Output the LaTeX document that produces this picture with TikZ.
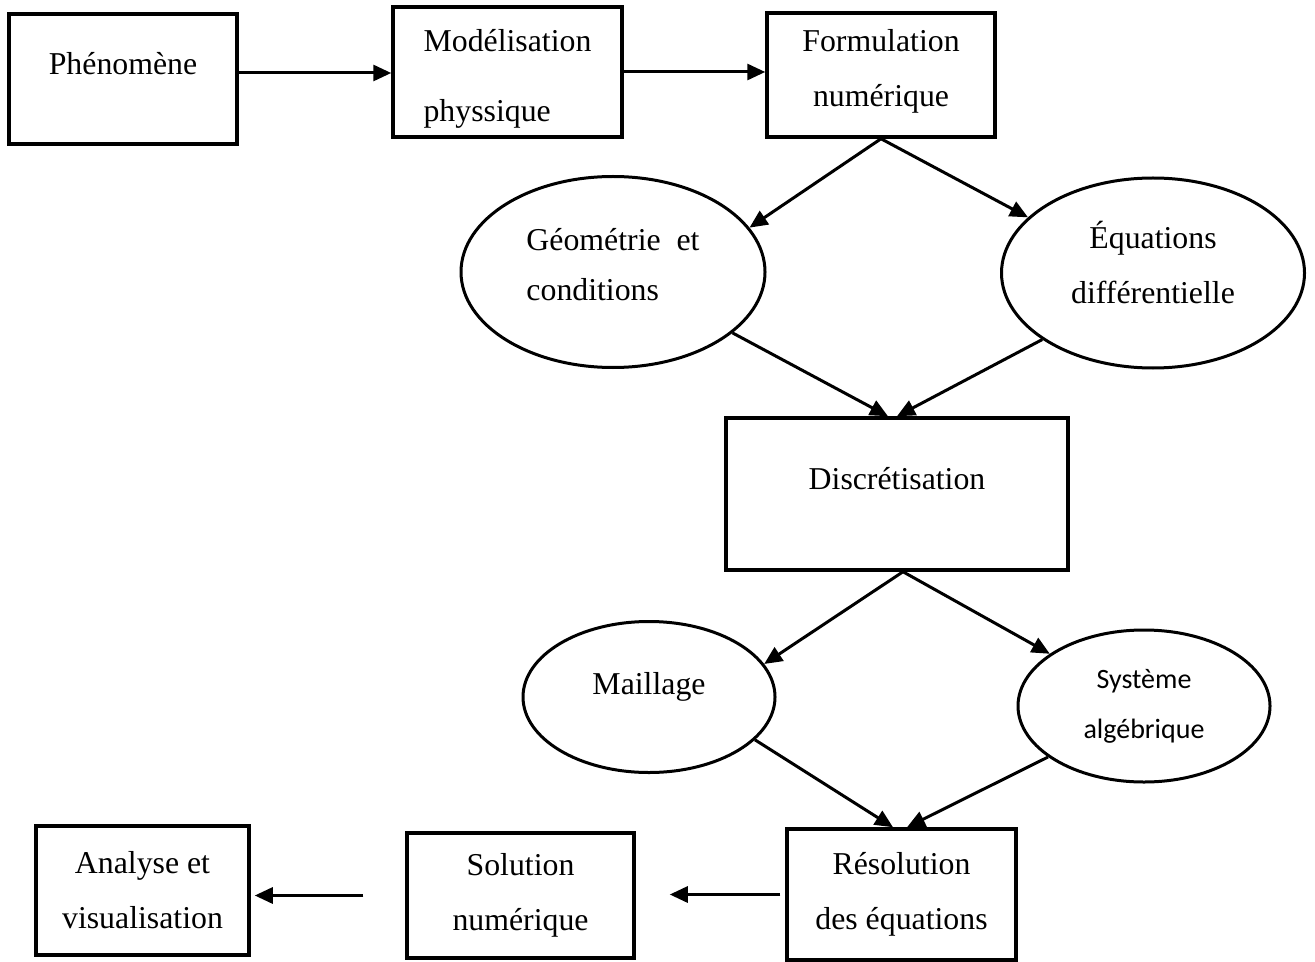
\documentclass[tikz,border=0pt]{standalone}
\usepackage{fontspec}
\setmainfont{Liberation Serif}
\newfontfamily\calibrifont{Carlito}
\usetikzlibrary{arrows.meta,shapes.geometric}
\newcommand{\liftlines}[3]{\raisebox{#1}[0pt][0pt]{\begin{tabular}{@{}#2@{}}#3\end{tabular}}}

\begin{document}
\begin{tikzpicture}[x=0.5pt,y=-0.5pt,
    BoxStyle/.style={draw,line width=1.75pt,inner sep=0pt,align=center,
      font=\fontsize{15.9}{27.5}\selectfont},
    EllipseStyle/.style={ellipse,draw,line width=1.5pt,inner sep=0pt,align=center,
      font=\fontsize{15.9}{27.5}\selectfont},
    EdgeStyle/.style={line width=1.5pt,-{Triangle[length=9pt,width=8pt]}}]
    \useasboundingbox (0,0) rectangle (1315,962);
    \node[BoxStyle,minimum width=114pt,minimum height=65pt] (phen) at (123,79) {\raisebox{16pt}{Phénomène}};
    \node[BoxStyle,minimum width=114.5pt,minimum height=65pt] (model) at (507.5,72) {\liftlines{-6pt}{l}{Modélisation\\[7.5pt]physsique}};
    \node[BoxStyle,minimum width=114pt,minimum height=62pt] (form) at (881,75) {\liftlines{-0.75pt}{c}{Formulation\\numérique}};
    \node[EllipseStyle,minimum width=152pt,minimum height=95.5pt] (geo) at (613,272) {\liftlines{-0.5pt}{l}{Géométrie~ et\\[-2.5pt]conditions}};
    \node[EllipseStyle,minimum width=151.5pt,minimum height=95pt] (equ) at (1153,273) {\liftlines{-0.5pt}{c}{Équations\\différentielle}};
    \node[BoxStyle,minimum width=171pt,minimum height=76pt] (disc) at (897,494) {\raisebox{16pt}{Discrétisation}};
    \node[EllipseStyle,minimum width=126pt,minimum height=75.5pt] (mail) at (649,697) {\raisebox{14pt}{Maillage}};
    \node[EllipseStyle,font=\calibrifont\fontsize{14}{25}\selectfont,minimum width=126pt,minimum height=76pt] (sys) at (1144,706) {Système\\algébrique};
    \node[BoxStyle,minimum width=114.5pt,minimum height=65.5pt] (res) at (901.5,894.5) {Résolution\\des équations};
    \node[BoxStyle,minimum width=113.5pt,minimum height=62.5pt] (sol) at (520.5,895.5) {Solution\\numérique};
    \node[BoxStyle,minimum width=106.5pt,minimum height=64.5pt] (ana) at (142.5,890.5) {Analyse et\\visualisation};
    \draw[EdgeStyle] ([yshift=3pt]phen.east) -- ([yshift=3pt]phen.east -| model.west);
    \draw[EdgeStyle] (model.east) -- (model.east -| form.west);
    \draw[EdgeStyle] (form.south) -- (geo.18);
    \draw[EdgeStyle] (form.south) -- (equ.156);
    \draw[EdgeStyle] (geo.-27) -- ([xshift=-4.5pt]disc.north);
    \draw[EdgeStyle] (equ.211) -- (disc.north);
    \draw[EdgeStyle] ([xshift=3pt]disc.south) -- (mail.16);
    \draw[EdgeStyle] ([xshift=3pt]disc.south) -- (sys.151);
    \draw[EdgeStyle] (mail.-22) -- ([xshift=-4.25pt]res.north);
    \draw[EdgeStyle] (sys.208) -- ([xshift=2.75pt]res.north);
    \draw[EdgeStyle,shorten <=2.5pt,shorten >=17pt] (res.west) -- (res.west -| sol.east);
    \draw[EdgeStyle,shorten <=21pt,shorten >=2pt] (sol.west) -- (sol.west -| ana.east);
  \end{tikzpicture}
\end{document}
